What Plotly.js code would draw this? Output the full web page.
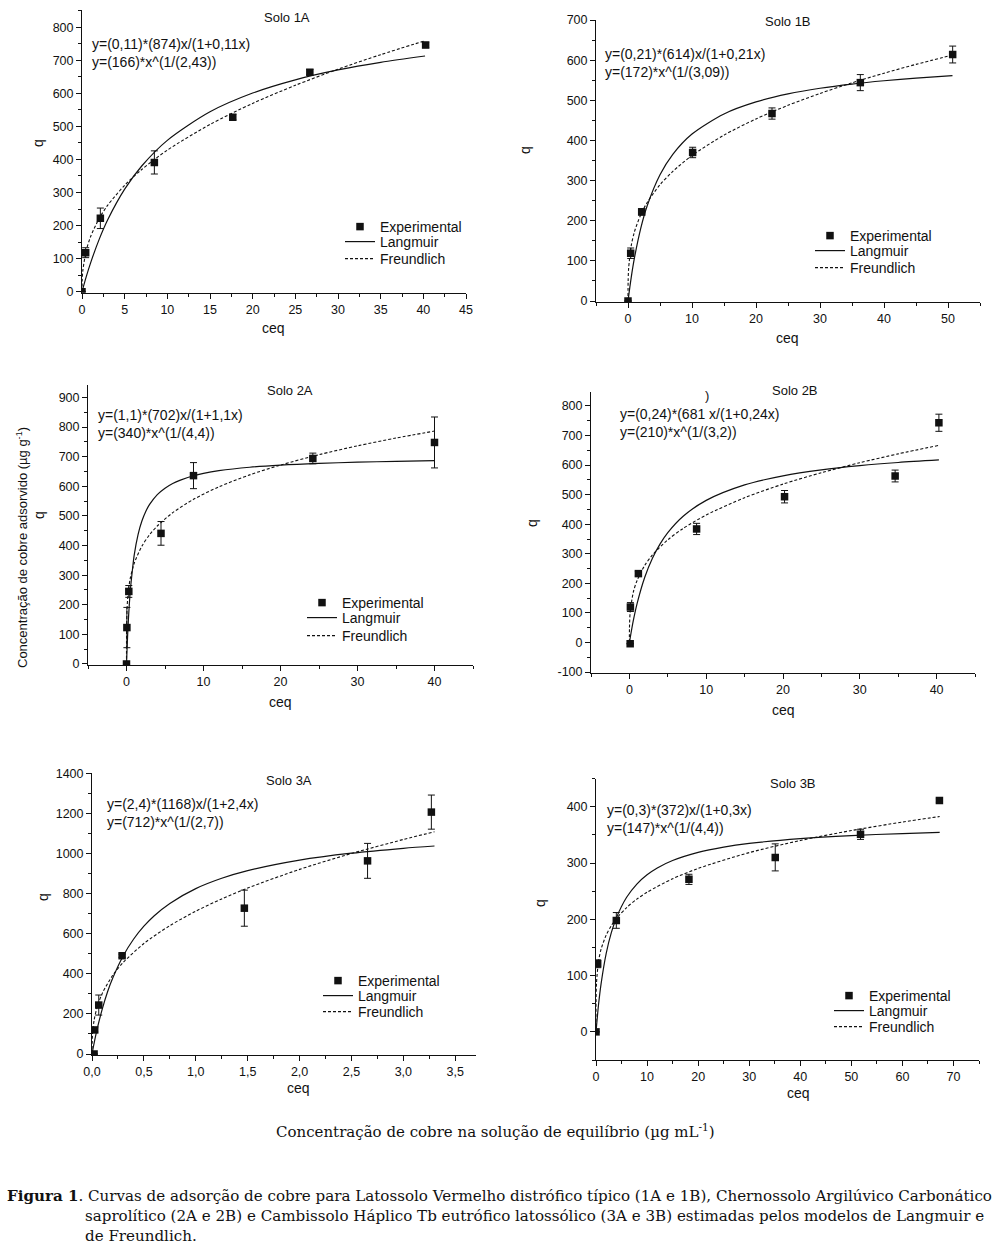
<!DOCTYPE html>
<html><head><meta charset="utf-8">
<script src="https://cdn.plot.ly/plotly-3.0.1.min.js"></script>
<style>body{margin:0;background:#fff}#chart{width:999px;height:1249px}</style>
</head><body><div id="chart"></div>
<script>
// ---------- DATA ----------
// Solo 1A
const s1A_ceq = [0, 0.43, 2.15, 8.48, 17.67, 26.7, 40.27];
const s1A_q = [0, 118, 222, 391, 528, 664, 746];
const s1A_err = [0, 15, 31, 35, 8, 8, 8];
const s1A_langX = [0, 0.5, 1, 2, 3, 5, 7, 10, 15, 20, 25, 30, 35, 40.2];
const s1A_langQ = [0, 45.6, 86.6, 157.6, 216.8, 310.1, 380.2, 457.8, 544.2, 600.9, 640.9, 670.7, 693.8, 712.8];
const s1A_freuX = [0, 0.02, 0.1, 0.5, 1, 2, 3, 5, 7, 10, 15, 20, 25, 30, 35, 40.2];
const s1A_freuQ = [0, 33.2, 64.4, 124.8, 166, 220.8, 260.9, 321.9, 369.7, 428.2, 505.9, 569.5, 624.2, 672.9, 716.9, 759.0];
// Solo 1B
const s1B_ceq = [0, 0.42, 2.14, 10.1, 22.5, 36.3, 50.73];
const s1B_q = [0, 119, 222, 370, 467, 544, 614];
const s1B_err = [0, 13, 8, 13, 14, 20, 21];
const s1B_langX = [0, 0.5, 1, 2, 3, 5, 7, 10, 15, 20, 25, 30, 35, 40, 45, 50.7];
const s1B_langQ = [0, 58.3, 106.6, 181.6, 237.3, 314.5, 365.4, 415.9, 466.0, 495.9, 515.8, 529.9, 540.5, 548.7, 555.2, 561.3];
const s1B_freuX = [0, 0.02, 0.1, 0.5, 1, 2, 3, 5, 7, 10, 15, 20, 25, 30, 35, 40, 45, 50.7];
const s1B_freuQ = [0, 48.5, 81.6, 137.4, 172, 215.2, 245.4, 289.5, 322.8, 362.4, 413.2, 453.5, 487.4, 517.0, 543.5, 567.5, 589.5, 612.7];
// Solo 2A
const s2A_ceq = [0, 0.05, 0.3, 4.48, 8.7, 24.2, 40];
const s2A_q = [0, 123, 245, 441, 636, 694, 748];
const s2A_err = [0, 68, 20, 40, 44, 18, 86];
const s2A_langX = [0, 0.1, 0.25, 0.5, 0.75, 1, 1.5, 2, 2.5, 3, 4, 5, 6, 7, 8.7, 10, 12, 16, 20, 25, 30, 35, 40];
const s2A_langQ = [0, 69.6, 151.4, 249.1, 313.2, 367.7, 437.1, 482.6, 514.8, 538.7, 572.0, 593.5, 609.6, 621.0, 635.6, 643.6, 652.6, 664.3, 671.5, 677.4, 681.4, 684.2, 686.4];
const s2A_freuX = [0, 0.01, 0.05, 0.1, 0.25, 0.5, 1, 2, 3, 4, 6, 8.7, 12, 16, 20, 25, 30, 35, 40];
const s2A_freuQ = [0, 119.4, 172.1, 201.5, 248.1, 290.5, 340, 398.0, 436.5, 465.9, 510.9, 555.9, 598.1, 638.5, 671.7, 706.7, 736.6, 762.9, 786.4];
// Solo 2B
const s2B_ceq = [0.1, 0.13, 1.17, 8.75, 20.2, 34.6, 40.3];
const s2B_q = [-4, 120, 233, 384, 493, 563, 743];
const s2B_err = [0, 15, 8, 19, 21, 20, 29];
const s2B_langX = [0, 0.5, 1, 2, 3, 4, 5, 7, 10, 15, 20, 25, 30, 35, 40.3];
const s2B_langQ = [0, 73.0, 131.8, 220.9, 285.1, 333.4, 371.5, 426.9, 480.7, 533.0, 563.6, 583.7, 597.9, 608.6, 617.2];
const s2B_freuX = [0, 0.01, 0.1, 0.5, 1, 2, 3, 5, 7, 10, 15, 20, 25, 30, 35, 40.3];
const s2B_freuQ = [0, 49.8, 102.3, 169.1, 210, 260.8, 296.0, 347.2, 385.8, 431.2, 489.5, 535.6, 574.2, 607.9, 637.9, 666.6];
const s2B_yTickVals = [-100, 0, 100, 200, 300, 400, 500, 600, 700, 800];
const s2B_yTickText = ['-100', '0', '100', '200', '300', '400', '500', '600', '700', '800'];
// Solo 3A
const s3A_ceq = [0.02, 0.026, 0.065, 0.29, 1.468, 2.655, 3.27];
const s3A_q = [0, 120, 244, 490, 727, 963, 1206];
const s3A_err = [0, 10, 50, 8, 90, 87, 85];
const s3A_langX = [0, 0.02, 0.05, 0.1, 0.15, 0.2, 0.3, 0.4, 0.5, 0.6, 0.75, 1.0, 1.25, 1.5, 2.0, 2.5, 3.0, 3.3];
const s3A_langQ = [0, 53.5, 125.1, 226.1, 310.6, 378.8, 488.9, 572.1, 637.1, 689.6, 750.9, 824.5, 876, 914.1, 966.6, 1001.1, 1025.6, 1037.0];
const s3A_freuX = [0, 0.005, 0.02, 0.05, 0.1, 0.2, 0.3, 0.5, 0.75, 1.0, 1.25, 1.5, 2.0, 2.5, 3.0, 3.3];
const s3A_freuQ = [0, 100.0, 167.2, 234.7, 303.5, 392.3, 455.8, 550.8, 640.0, 712, 773.4, 827.4, 920.4, 999.7, 1069.6, 1108.0];
// Solo 3B
const s3B_ceq = [0, 0.33, 3.98, 18.2, 35.1, 51.8, 67.25];
const s3B_q = [0, 121, 198, 271, 310, 351, 411];
const s3B_err = [0, 7, 14, 9, 24, 9, 3];
const s3B_langX = [0, 0.5, 1, 2, 3, 4, 6, 8, 10, 12, 15, 20, 25, 30, 40, 50, 60, 67.3];
const s3B_langQ = [0, 48.5, 85.8, 139.5, 176.2, 202.9, 239.1, 262.6, 279, 291.2, 304.4, 318.9, 328.3, 334.8, 343.4, 348.8, 352.4, 354.4];
const s3B_freuX = [0, 0.01, 0.1, 0.5, 1, 2, 3, 4, 6, 8, 10, 15, 20, 30, 40, 50, 60, 67.3];
const s3B_freuQ = [0, 51.6, 87.1, 125.6, 147, 172.1, 188.7, 201.4, 220.9, 235.8, 248.1, 272.0, 290.4, 318.5, 340.0, 357.7, 372.8, 382.6];

const seriesNames = ['Experimental', 'Langmuir', 'Freundlich'];
const panelTitles = ['Solo 1A', 'Solo 1B', 'Solo 2A', 'Solo 2B', 'Solo 3A', 'Solo 3B'];
const equations = [
  'y=(0,11)*(874)x/(1+0,11x)<br>y=(166)*x^(1/(2,43))',
  'y=(0,21)*(614)x/(1+0,21x)<br>y=(172)*x^(1/(3,09))',
  'y=(1,1)*(702)x/(1+1,1x)<br>y=(340)*x^(1/(4,4))',
  'y=(0,24)*(681 x/(1+0,24x)<br>y=(210)*x^(1/(3,2))',
  'y=(2,4)*(1168)x/(1+2,4x)<br>y=(712)*x^(1/(2,7))',
  'y=(0,3)*(372)x/(1+0,3x)<br>y=(147)*x^(1/(4,4))'
];
const xTitle = 'ceq', yTitle = 'q';
const sideLabel = 'Concentração de cobre adsorvido (µg g<sup>-1</sup>)';
const bottomLabel = 'Concentração de cobre na solução de equilíbrio (µg mL<sup>-1</sup>)';
const captionBold = 'Figura 1';
const captionLines = [
  '. Curvas de adsorção de cobre para Latossolo Vermelho distrófico típico (1A e 1B), Chernossolo Argilúvico Carbonático',
  'saprolítico (2A e 2B) e Cambissolo Háplico Tb eutrófico latossólico (3A e 3B) estimadas pelos modelos de Langmuir e',
  'de Freundlich.'
];

// ---------- LAYOUT ----------
const W = 999, H = 1249;
const fx = p => p / W, fy = p => 1 - p / H;
const INK = '#111';
const SANS = '"Liberation Sans", Arial, sans-serif';
const SERIF = '"DejaVu Serif", serif';

// legend: [left x, centre y of Experimental, Langmuir, Freundlich] in page pixels
const panels = [
  {data:[s1A_ceq,s1A_q,s1A_err,s1A_langX,s1A_langQ,s1A_freuX,s1A_freuQ], px:[82,466], py:[10,292.7], xr:[0,45], yr:[-3,852], xd:5, xm:2.5, yd:100, ym:50,
   title:[287,17], eq:[90,53], q:[38,143], ceq:[273,328], legend:[340,227,242,259]},
  {data:[s1B_ceq,s1B_q,s1B_err,s1B_langX,s1B_langQ,s1B_freuX,s1B_freuQ], px:[596,980], py:[20,302], xr:[-5,55], yr:[-2.5,700], xd:10, xm:5, yd:100, ym:50,
   title:[788,22], eq:[603,63.5], q:[525,150], ceq:[787,338], legend:[810,236,251,268]},
  {data:[s2A_ceq,s2A_q,s2A_err,s2A_langX,s2A_langQ,s2A_freuX,s2A_freuQ], px:[88,473], py:[385,665], xr:[-5,45], yr:[-3.4,942], xd:10, xm:5, yd:100, ym:50,
   title:[290,391], eq:[96,423.5], q:[39,515], ceq:[280,702], legend:[302,603,618,636]},
  {data:[s2B_ceq,s2B_q,s2B_err,s2B_langX,s2B_langQ,s2B_freuX,s2B_freuQ], px:[591,975], py:[392,673], xr:[-5,45], yr:[-103,847], xd:10, xm:5, yd:100, ym:50,
   title:[795,391], eq:[618,422.5], q:[532,523], ceq:[783,710], legend:null},
  {data:[s3A_ceq,s3A_q,s3A_err,s3A_langX,s3A_langQ,s3A_freuX,s3A_freuQ], px:[92,476], py:[773,1055], xr:[0,3.7], yr:[-5,1401], xd:0.5, xm:0.25, yd:200, ym:100,
   title:[289,780], eq:[105,812.5], q:[43,897], ceq:[298,1088], legend:[318,981,996,1012]},
  {data:[s3B_ceq,s3B_q,s3B_err,s3B_langX,s3B_langQ,s3B_freuX,s3B_freuQ], px:[596,979], py:[778.6,1060], xr:[0,75], yr:[-50,450], xd:10, xm:5, yd:100, ym:50,
   title:[793,783], eq:[605,818.5], q:[540,903], ceq:[798,1093], legend:[829,996,1011,1027]}
];

const traces = [];
const layout = {
  width: W, height: H, margin: {l:0, r:0, t:0, b:0},
  paper_bgcolor: '#fff', plot_bgcolor: 'rgba(0,0,0,0)',
  separators: ',.', showlegend: true,
  font: {family: SANS, color: INK},
  annotations: []
};
let legendIdx = 0;
const LEG_OFFSET = 16; // distance from legend top to item centre
function makeLegend(x, cy) {
  legendIdx++;
  const key = 'legend' + (legendIdx === 1 ? '' : legendIdx);
  layout[key] = {x: fx(x), y: fy(cy - LEG_OFFSET), xanchor: 'left', yanchor: 'top',
    bgcolor: 'rgba(0,0,0,0)', borderwidth: 0, font: {family: SANS, size: 14, color: INK},
    itemwidth: 30, tracegroupgap: 0};
  return key;
}
panels.forEach((p, i) => {
  const n = i + 1;
  const xa = 'x' + (n === 1 ? '' : n), ya = 'y' + (n === 1 ? '' : n);
  const xk = 'xaxis' + (n === 1 ? '' : n), yk = 'yaxis' + (n === 1 ? '' : n);
  const [cx, cq, ce, lx, lq, fxv, fq] = p.data;
  const base = {xaxis: xa, yaxis: ya, hoverinfo: 'skip', showlegend: !!p.legend};
  const withLeg = (t, k) => { const o = Object.assign({}, base, t); if (p.legend) o.legend = makeLegend(p.legend[0], p.legend[k]); return o; };
  traces.push(withLeg({x: cx, y: cq, mode: 'markers', name: seriesNames[0],
    marker: {symbol: 'square', size: 7.5, color: INK},
    error_y: {type: 'data', array: ce, visible: true, color: INK, thickness: 1, width: 3.5}}, 1));
  traces.push(withLeg({x: lx, y: lq, mode: 'lines', name: seriesNames[1], line: {color: INK, width: 1.2, shape: 'spline', smoothing: 0.8}}, 2));
  traces.push(withLeg({x: fxv, y: fq, mode: 'lines', name: seriesNames[2], line: {color: INK, width: 1.1, dash: '3px,2px', shape: 'spline', smoothing: 0.8}}, 3));

  const axBase = {showline: true, linecolor: INK, linewidth: 1, ticks: 'outside', ticklen: 5, tickwidth: 1, tickcolor: INK,
    showgrid: false, zeroline: false, tickfont: {family: SANS, size: 12.5, color: INK}, fixedrange: true};
  layout[xk] = Object.assign({}, axBase, {domain: [fx(p.px[0]), fx(p.px[1])], range: p.xr, dtick: p.xd, tick0: 0, anchor: ya,
    minor: {ticks: 'outside', ticklen: 3, tickcolor: INK, dtick: p.xm, tick0: 0, showgrid: false}});
  if (n === 5) layout[xk].tickformat = '.1f';
  layout[yk] = Object.assign({}, axBase, {domain: [fy(p.py[1]), fy(p.py[0])], range: p.yr, dtick: p.yd, tick0: 0, anchor: xa,
    minor: {ticks: 'outside', ticklen: 3, tickcolor: INK, dtick: p.ym, tick0: 0, showgrid: false}});
  if (n === 4) { layout[yk].tickmode = 'array'; layout[yk].tickvals = s2B_yTickVals; layout[yk].ticktext = s2B_yTickText; }

  const A = layout.annotations;
  A.push({text: panelTitles[i], xref: 'paper', yref: 'paper', x: fx(p.title[0]), y: fy(p.title[1]), xanchor: 'center', yanchor: 'middle', showarrow: false, font: {family: SANS, size: 13, color: INK}});
  A.push({text: equations[i], xref: 'paper', yref: 'paper', x: fx(p.eq[0]), y: fy(p.eq[1]), xanchor: 'left', yanchor: 'middle', align: 'left', showarrow: false, font: {family: SANS, size: 14, color: INK}});
  A.push({text: yTitle, xref: 'paper', yref: 'paper', x: fx(p.q[0]), y: fy(p.q[1]), xanchor: 'center', yanchor: 'middle', textangle: -90, showarrow: false, font: {family: SANS, size: 14, color: INK}});
  A.push({text: xTitle, xref: 'paper', yref: 'paper', x: fx(p.ceq[0]), y: fy(p.ceq[1]), xanchor: 'center', yanchor: 'middle', showarrow: false, font: {family: SANS, size: 14, color: INK}});
});
const A = layout.annotations;
A.push({text: ')', xref: 'paper', yref: 'paper', x: fx(707), y: fy(395), xanchor: 'center', yanchor: 'middle', showarrow: false, font: {family: SANS, size: 13, color: INK}});
A.push({text: sideLabel, xref: 'paper', yref: 'paper', x: fx(22), y: fy(548), xanchor: 'center', yanchor: 'middle', textangle: -90, showarrow: false, font: {family: '"Liberation Sans Narrow", "Arial Narrow", ' + SANS, size: 13, color: INK}});
A.push({text: bottomLabel, xref: 'paper', yref: 'paper', x: fx(495), y: fy(1131), xanchor: 'center', yanchor: 'middle', showarrow: false, font: {family: SERIF, size: 15, color: INK}});
A.push({text: '<b>' + captionBold + '</b>' + captionLines[0], xref: 'paper', yref: 'paper', x: fx(5), y: fy(1196), xanchor: 'left', yanchor: 'middle', showarrow: false, font: {family: SERIF, size: 15.1, color: INK}});
A.push({text: captionLines[1] + '<br>' + captionLines[2], xref: 'paper', yref: 'paper', x: fx(83), y: fy(1225.5), xanchor: 'left', yanchor: 'middle', align: 'left', showarrow: false, font: {family: SERIF, size: 15.1, color: INK}});

Plotly.newPlot('chart', traces, layout, {staticPlot: true, displayModeBar: false});
</script>
</body></html>
